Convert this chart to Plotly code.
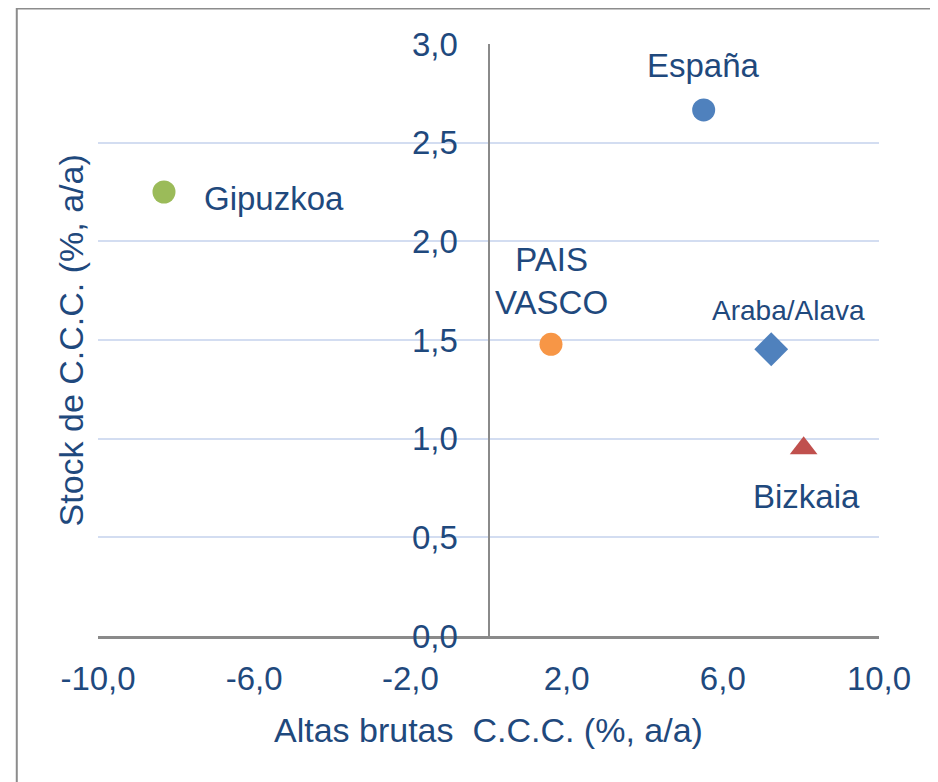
import plotly.graph_objects as go

# data
regiones = ["España", "Gipuzkoa", "PAIS<br>VASCO", "Araba/Alava", "Bizkaia"]
altas = [5.51, -8.31, 1.60, 7.24, 8.07]        # Altas brutas C.C.C. (%, a/a)
stock = [2.666, 2.25, 1.478, 1.453, 0.951]     # Stock de C.C.C. (%, a/a)
colores = ["#4F81BD", "#9BBB59", "#F79646", "#4F81BD", "#C0504D"]
simbolos = ["circle", "circle", "circle", "diamond", "triangle-up"]
tamanos = [23, 23, 23, 26, 24]

x_ticks = [-10, -6, -2, 2, 6, 10]
x_labels = ["-10,0", "-6,0", "-2,0", "2,0", "6,0", "10,0"]

# label placement relative to each point (pixels)
lbl_shift = [(0, 44), (38, -6), (1, 63), (17, 39), (3, -48)]
lbl_anchor = ["center", "left", "center", "center", "center"]
lbl_size = [33, 33, 33, 28, 33]

TXT = "#1F497D"
FONT = "Liberation Sans, Arial, sans-serif"

fig = go.Figure()
for i, r in enumerate(regiones):
    fig.add_trace(go.Scatter(
        x=[altas[i]], y=[stock[i]], mode="markers", name=r,
        marker=dict(color=colores[i], symbol=simbolos[i], size=tamanos[i],
                    line=dict(width=0)),
        showlegend=False, hoverinfo="skip",
    ))
    fig.add_annotation(
        x=altas[i], y=stock[i], text=r, showarrow=False,
        xanchor=lbl_anchor[i], yanchor="middle",
        xshift=lbl_shift[i][0], yshift=lbl_shift[i][1],
        font=dict(size=lbl_size[i], color=TXT, family=FONT),
    )

fig.update_layout(
    width=938, height=782,
    margin=dict(l=90, r=67, t=36, b=154),
    paper_bgcolor="white", plot_bgcolor="white",
    separators=",.",
    font=dict(family=FONT, color=TXT, size=33),
    showlegend=False,
)
fig.update_xaxes(
    range=[-10, 10], tickvals=x_ticks, ticktext=x_labels,
    showgrid=False, zeroline=False,
    showline=True, linecolor="#8A8A8A", linewidth=2.5,
    ticks="", ticklabelstandoff=12,
    tickfont=dict(size=33, color=TXT),
)
fig.update_yaxes(
    range=[0, 3], dtick=0.5, tickformat=".1f",
    anchor="free", position=0.5,
    showgrid=True, gridcolor="#D3DDF1", gridwidth=2,
    zeroline=False,
    showline=True, linecolor="#8A8A8A", linewidth=2,
    ticks="", ticklabelstandoff=23,
    tickfont=dict(size=33, color=TXT),
)

# axis titles
fig.add_annotation(xref="paper", yref="paper", x=0.5, y=-0.158,
                   xanchor="center", yanchor="middle",
                   text="Altas brutas&nbsp; C.C.C. (%, a/a)", showarrow=False,
                   font=dict(size=34, color=TXT, family=FONT))
fig.add_annotation(xref="paper", yref="paper", x=-0.034, y=0.5,
                   xanchor="center", yanchor="middle", textangle=-90,
                   text="Stock de C.C.C. (%, a/a)", showarrow=False,
                   font=dict(size=34, color=TXT, family=FONT))

# chart border
fig.add_shape(type="rect", xref="paper", yref="paper",
              x0=-0.104, x1=1.2, y0=-0.4, y1=1.06,
              line=dict(color="#8C8C8C", width=2), layer="below")

fig.write_html("out.html")
